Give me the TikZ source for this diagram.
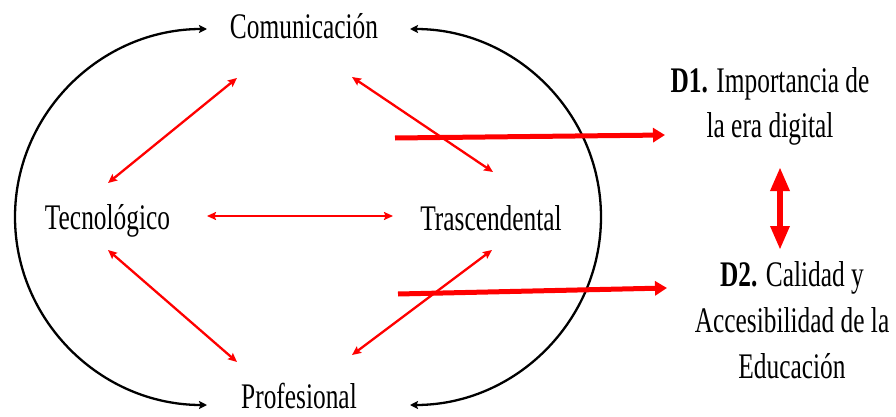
\documentclass[tikz,border=0pt]{standalone}
\usepackage{fontspec}
\setmainfont[FakeStretch=0.705]{Liberation Serif}
\usetikzlibrary{arrows.meta}
\begin{document}
\begin{tikzpicture}[x=1pt,y=-1pt,
  lbl/.style={inner sep=0pt, outer sep=0pt, anchor=base, font=\fontsize{36}{46}\selectfont},
  dlbl/.style={lbl, align=center},
  redthin/.style={draw=red, line width=2.3pt, {Stealth[length=9pt,width=8pt,inset=1.5pt]}-{Stealth[length=9pt,width=8pt,inset=1.5pt]}},
  redthick/.style={draw=red, line width=5pt, -{Triangle[length=12pt,width=14pt]}},
  redvert/.style={draw=red, line width=6pt, {Triangle[length=24pt,width=18pt]}-{Triangle[length=24pt,width=18pt]}},
  blkarc/.style={draw=black, line width=2.3pt, {Stealth[length=8pt,width=8pt,inset=1.5pt]}-{Stealth[length=8pt,width=8pt,inset=1.5pt]}}
]
\useasboundingbox (0,0) rectangle (896,417);
% labels
\node[lbl] (com) at (304,39) {Comunicación};
\node[lbl] (tec) at (107.5,229) {Tecnológico};
\node[lbl] (tra) at (491,230) {Trascendental};
\node[lbl] (pro) at (299,408) {Profesional};
\node[dlbl, font=\fontsize{36}{45}\selectfont] (d1) at (770,138) {\textbf{D1.} Importancia de\\la era digital};
\node[dlbl] (d2) at (792,378) {\textbf{D2.} Calidad y\\Accesibilidad de la\\Educación};
% connector end points
\coordinate (comL) at (237,78);
\coordinate (comR) at (352,77);
\coordinate (tecU) at (108,183);
\coordinate (tecR) at (207,216);
\coordinate (tecD) at (108,250);
\coordinate (traU) at (493,172);
\coordinate (traL) at (393,216);
\coordinate (traD) at (492,250);
\coordinate (proL) at (237,362);
\coordinate (proR) at (352,355);
\coordinate (arcLT) at (207,29);
\coordinate (arcRT) at (410,29);
\coordinate (s1) at (395,138);
\coordinate (e1) at (665,135);
\coordinate (s2) at (398,294);
\coordinate (e2) at (667,288);
\coordinate (v1) at (780,167);
\coordinate (v2) at (780,250);
% black arcs
\draw[blkarc] (arcLT) arc[start angle=270, end angle=90, x radius=192, y radius=188];
\draw[blkarc] (arcRT) arc[start angle=-90, end angle=90, x radius=191, y radius=188];
% red thin arrows
\draw[redthin] (comL) -- (tecU);
\draw[redthin] (comR) -- (traU);
\draw[redthin] (tecR) -- (traL);
\draw[redthin] (tecD) -- (proL);
\draw[redthin] (traD) -- (proR);
% red thick arrows
\draw[redthick] (s1) -- (e1);
\draw[redthick] (s2) -- (e2);
\draw[redvert] (v1) -- (v2);
\end{tikzpicture}
\end{document}
